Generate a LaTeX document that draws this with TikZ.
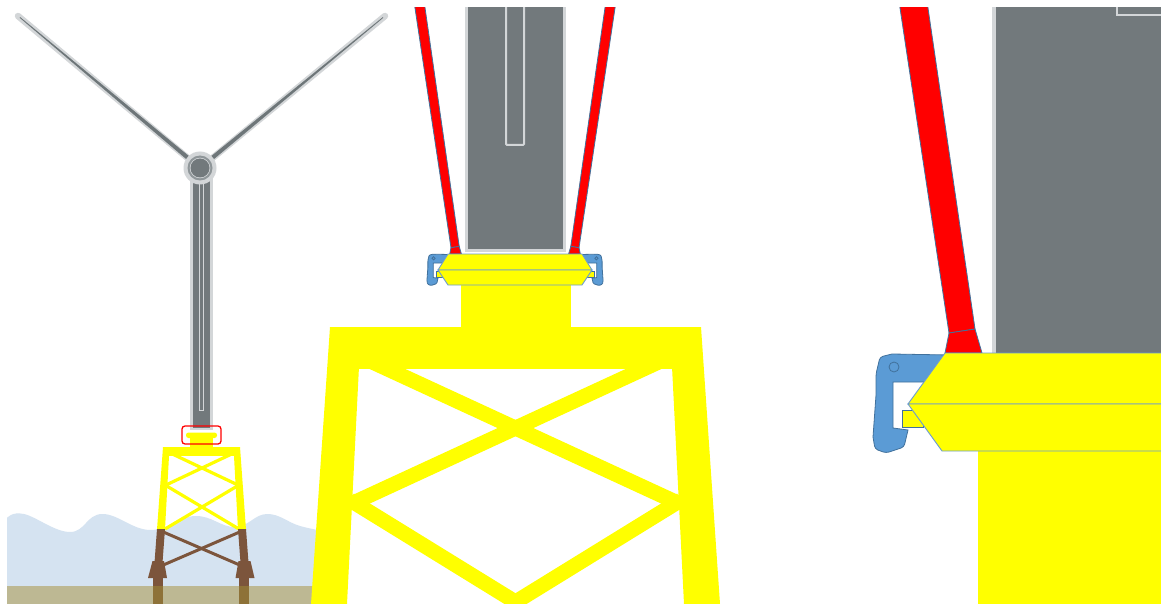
\documentclass[tikz,border=0pt]{standalone}
\definecolor{towergray}{HTML}{72797C}
\definecolor{towerlight}{HTML}{D3D6D8}
\definecolor{bladedark}{HTML}{6E7679}
\definecolor{hubring}{HTML}{8F9699}
\definecolor{sea}{HTML}{D5E3F1}
\definecolor{seabed}{HTML}{BDB893}
\definecolor{steelbrown}{HTML}{7C553C}
\definecolor{pilebrown}{HTML}{8E7238}
\definecolor{jacketyellow}{HTML}{FFFF00}
\definecolor{clampblue}{HTML}{5B9BD5}
\definecolor{clampedge}{HTML}{41719C}
\definecolor{flangeedge}{HTML}{6A9BD3}
\definecolor{legred}{HTML}{FF0000}

\tikzset{
  jacket/.style={fill=jacketyellow},
  flange/.style={fill=jacketyellow, draw=flangeedge, line width=0.9},
  redleg/.style={fill=legred, draw=clampedge, line width=0.8},
  towershell/.style={fill=towerlight},
  towercore/.style={fill=towergray},
  slot/.style={draw=towerlight, line width=2},
  gripround/.style={rounded corners=3},
  gripper/.pic={
    \filldraw[fill=clampblue, draw=clampedge, line width=0.8]
      (42,-49) -- (-16,-50) [gripround] -- (-28,-47) -- (-32,-30) [sharp corners] -- (-32,-9)
      -- (-35,33) [gripround] -- (-33,45) -- (-22,49) -- (-4,43) [sharp corners] -- (0,26)
      -- (-15,24) -- (-15,-22) -- (42,-22) -- cycle;
    \draw[clampedge, line width=0.8] (-14,-37) circle (5);
    \filldraw[fill=jacketyellow, draw=clampedge, line width=0.8] (-6,6) rectangle (15,23);
  }
}

\begin{document}
\begin{tikzpicture}[x=1pt,y=-1pt]
\useasboundingbox (0,0) rectangle (1161,604);
\fill[white] (0,0) rectangle (1161,604);

% ---------------- whole turbine ----------------
% sea and seabed
\fill[sea] (7,604) -- plot[smooth, tension=0.7] coordinates
  {(7,518) (24,514) (70,532) (102,514) (150,530) (195,516) (235,527) (267,514) (300,526) (330,532)}
  -- (330,604) -- cycle;
\fill[seabed] (7,586) rectangle (330,604);

% jacket bracing (yellow part)
\begin{scope}[jacketyellow, line width=3.2]
  \draw (166,451) -- (238,485);
  \draw (238,451) -- (166,485);
  \draw (165,485) -- (239,529);
  \draw (239,485) -- (165,529);
\end{scope}
% submerged bracing
\begin{scope}[steelbrown, line width=3]
  \draw (161,531) -- (242,566);
  \draw (242,531) -- (161,566);
\end{scope}
% jacket legs
\fill[jacket] (163,447) -- (169.5,447) -- (165,529.5) -- (157,529.5) -- cycle;
\fill[jacket] (240,447) -- (233.5,447) -- (238,529.5) -- (246,529.5) -- cycle;
\fill[jacket] (163,447) rectangle (240,456);
\fill[steelbrown] (157,529) -- (165,529) -- (162.4,564) -- (154.4,564) -- cycle;
\fill[steelbrown] (246,529) -- (238,529) -- (240.6,564) -- (248.6,564) -- cycle;
% pile sleeves and piles
\fill[steelbrown] (152.5,561) -- (164,561) -- (167,578) -- (148,578) -- cycle;
\fill[steelbrown] (238.5,561) -- (250.5,561) -- (254.5,578) -- (235.5,578) -- cycle;
\fill[steelbrown] (153,578) rectangle (163,586);
\fill[steelbrown] (239,578) rectangle (249,586);
\fill[pilebrown] (153,586) rectangle (163,604);
\fill[pilebrown] (239,586) rectangle (249,604);

% transition piece
\fill[jacket] (190,436) rectangle (213,447);

% tower
\fill[towershell] (190,168) rectangle (213,430);
\fill[towercore] (193,170) rectangle (210,428);
\draw[towerlight, line width=1] (199.5,180) rectangle (203.5,410);
\fill[jacket, rounded corners=2.5] (186,432.5) rectangle (217,438);

% highlight box around the connection
\draw[legred, line width=1.3, rounded corners=3] (182,426) rectangle (221,444);

% blades
\draw[towerlight, line width=6.5, line cap=round] (196,165) -- (18,16);
\draw[towerlight, line width=6.5, line cap=round] (204,165) -- (385,16);
\fill[bladedark] (195.4,161.4) -- (192.7,164.6) -- (19.7,17.8) -- (20.3,17.2) -- cycle;
\fill[bladedark] (207.3,164.6) -- (204.7,161.4) -- (382.75,17.2) -- (383.25,17.8) -- cycle;

% hub
\fill[towerlight] (200,168) circle (16.5);
\fill[hubring] (200,168) circle (12.5);
\fill[towerlight] (200,168) circle (10.3);
\fill[towergray] (200,168) circle (9.5);

\begin{scope}
\clip (0,8) rectangle (1161,604);

% ---------------- connection detail ----------------
% jacket bracing
\begin{scope}[jacketyellow, line width=15]
  \draw (355,354) -- (680,504);
  \draw (676,354) -- (351,504);
  \draw[miter limit=20] (350,500) -- (515.5,602) -- (681,500);
\end{scope}
% jacket legs, top beam and transition block
\fill[jacket] (330,327) -- (361,327) -- (347,604) -- (311,604) -- cycle;
\fill[jacket] (701,327) -- (670,327) -- (684,604) -- (720,604) -- cycle;
\fill[jacket] (330,327) rectangle (701,369);
\fill[jacket] (461,284) rectangle (571,328);

% tower
\fill[towershell] (465,0) rectangle (566,252);
\fill[towercore] (468,0) rectangle (563,249);
\draw[slot, rounded corners=1] (506,0) rectangle (524,145);

% tripod legs
\filldraw[redleg] (413.8,0) -- (423.9,0) -- (459.2,246.4) -- (451,247.7) -- cycle;
\filldraw[redleg] (451,247.7) -- (459.2,246.4) -- (461.4,254) -- (449.7,254) -- cycle;
\filldraw[redleg] (616.2,0) -- (606.1,0) -- (570.8,246.4) -- (579,247.7) -- cycle;
\filldraw[redleg] (579,247.7) -- (570.8,246.4) -- (568.6,254) -- (580.3,254) -- cycle;

% clamps
\pic[scale=0.316, gripround/.style={rounded corners=1}] at (438,270) {gripper};
\pic[xscale=-0.316, yscale=0.316, gripround/.style={rounded corners=1}] at (592,270) {gripper};

% flanges
\filldraw[flange] (448,254) -- (582,254) -- (592,270) -- (438,270) -- cycle;
\filldraw[flange] (438,270) -- (592,270) -- (582,285) -- (448,285) -- cycle;

% ---------------- close-up of one clamp ----------------
\fill[towershell] (992,0) rectangle (1170,353);
\fill[towercore] (996,0) rectangle (1170,353);
\draw[slot] (1117,-5) rectangle (1180,15);

\filldraw[redleg] (898.8,0) -- (926.8,0) -- (975,329) -- (949,333) -- cycle;
\filldraw[redleg] (949,333) -- (975,329) -- (982,353) -- (945,353) -- cycle;

\pic at (908,404) {gripper};

\fill[jacket] (978,450) rectangle (1170,604);
\filldraw[flange] (945,353) -- (1170,353) -- (1170,404) -- (908,404) -- cycle;
\filldraw[flange] (908,404) -- (1170,404) -- (1170,451) -- (942,451) -- cycle;
\end{scope}
\end{tikzpicture}
\end{document}
